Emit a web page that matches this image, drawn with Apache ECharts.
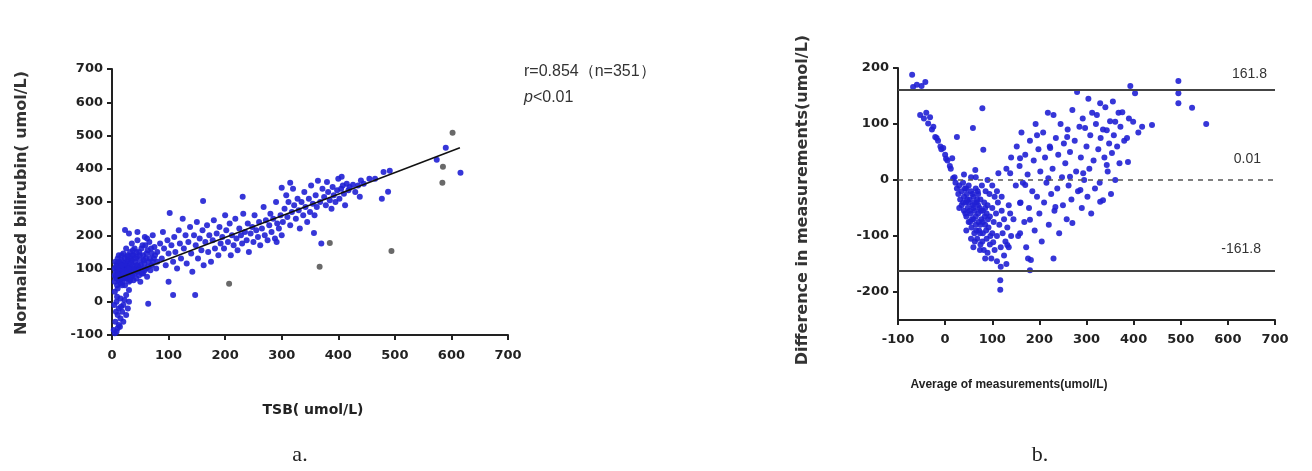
<!DOCTYPE html>
<html>
<head>
<meta charset="utf-8">
<script src="https://cdn.jsdelivr.net/npm/echarts@6/dist/echarts.min.js"></script>
<style>
html,body{margin:0;padding:0;background:#fff;}
#chart{width:1312px;height:471px;}
</style>
</head>
<body>
<div id="chart"></div>
<script>
// ---- Panel a: TSB vs normalized bilirubin ----
const panelAPoints = [
  [5,-95],[8,-90],[3,-85],[10,-80],[14,-75],[12,-70],[6,-60],[20,-60],[15,-50],[10,-40],[25,-40],[18,-30],[12,-20],[28,-20],[20,-10],[8,0],[30,0],[15,10],[22,5],[25,20],[5,30],[10,40],[18,50],[64,-6],[7,-30],[4,-10],[16,-15],[9,15],[30,35],
  [5,60],[5,80],[5,100],[6,120],[7,90],[8,70],[8,110],[9,50],[10,130],[10,85],[11,95],[12,65],[12,140],[13,105],[14,75],[15,115],[15,55],[16,90],[17,125],[18,80],[18,100],[19,60],[20,145],[20,70],[21,110],[22,90],[22,130],[23,50],[24,100],[25,80],[25,160],[26,120],[27,70],[28,105],[28,140],[29,90],[30,60],[30,115],[31,85],[32,150],[33,100],[34,75],[35,125],[35,175],[36,95],[37,110],[38,65],[38,140],[40,85],[40,160],[41,120],[42,100],[43,70],[44,135],[45,90],[45,185],[46,110],[48,150],[48,80],[50,125],[50,60],[52,100],[54,170],[55,140],[55,85],[57,115],[58,195],[60,130],[60,100],[62,75],[63,155],[65,120],[66,180],[68,95],[70,145],[70,110],[72,200],[74,130],[75,165],[78,100],[80,150],[80,120],
  [23,216],[30,205],[45,210],[14,90],[26,95],[36,80],[17,140],[33,130],[9,115],
  [6,75],[9,95],[11,80],[13,120],[16,70],[19,95],[21,85],[23,115],[24,70],[27,95],[29,125],[31,100],[32,65],[34,115],[36,140],[39,100],[42,130],[44,110],[47,95],[49,140],[51,110],[53,85],[56,125],[58,95],[61,145],[64,105],[67,130],[69,160],[72,120],[76,140],[7,105],[12,100],[17,110],[22,75],[27,135],[37,155],[43,150],[52,160],[59,170],[62,190],
  [85,175],[88,130],[90,210],[92,160],[95,110],[98,185],[100,145],[100,60],[102,267],[105,170],[108,20],[108,120],[110,195],[112,150],[115,100],[118,215],[120,175],[122,130],[125,250],[127,160],[130,200],[132,115],[135,180],[138,225],[140,145],[142,90],[145,200],[147,20],[148,170],[150,240],[152,130],[155,190],[158,155],[160,215],[161,303],[162,110],[165,180],[168,230],[170,150],[172,200],[175,120],[178,185],[180,245],[182,160],[185,205],[188,140],[190,225],[192,175],[195,195],[198,160],[200,260],[202,215],[205,180],[208,235],[210,140],[212,200],[215,170],[218,250],[220,190],[222,155],[225,220],[228,200],[230,175],[231,316],[232,265],[235,210],[238,185],[240,235],[242,150],[245,205],[248,225],[250,180],[252,260],[255,215],[258,195],[260,240],[262,170],[265,220],[268,285],[270,200],[272,245],[275,185],[278,230],[280,265],[282,210],[285,250],[288,190],[290,300],[291,180],[292,235],[295,220],[298,260],[300,343],[300,200],
  [302,240],[305,280],[308,320],[310,255],[312,300],[315,358],[315,230],[318,270],[320,340],[322,290],[325,250],[328,310],[330,275],[332,220],[335,300],[338,260],[340,330],[342,285],[345,240],[348,310],[350,270],[352,350],[355,295],[357,207],[358,260],[360,320],[362,285],[364,364],[368,300],[370,175],[372,340],[375,315],[378,290],[380,360],[382,330],[385,305],[388,280],[390,345],[392,320],[395,300],[398,335],[400,370],[402,310],[405,340],[406,376],[408,350],[410,325],[412,290],[415,355],[418,335],[420,345],[426,352],[430,330],[435,350],[438,316],[440,365],[445,355],[455,370],[465,370],[477,310],[480,390],[488,331],[491,394],[574,427],[590,463],[616,388]
];
const panelAGrayPoints = [[207,54],[367,105],[385,177],[494,153],[584,358],[585,406],[602,508]];
const fitLineX = [10, 615];
const fitLineY = [70, 463];

// ---- Panel b: Bland-Altman (average vs difference) ----
const panelBPoints = [
  [-70,188],[-68,166],[-60,170],[-42,175],[-50,168],
  [-53,116],[-45,110],[-40,120],[-36,101],[-32,112],[-28,90],[-25,95],[-21,77],[-18,75],[-15,70],[-10,60],[-8,55],[-4,57],[0,45],[2,38],[5,35],[10,25],[12,20],[15,39],[17,3],[20,5],[25,77],[59,93],[79,128],[81,54],[64,18],[113,12],
  [22,-5],[25,-15],[28,-25],[30,-10],[32,-35],[35,-20],[35,-45],[38,-5],[40,-30],[40,-55],[42,-15],[44,-40],[45,-65],[46,-25],[48,-50],[50,-10],[50,-75],[52,-35],[54,-60],[55,-20],[56,-85],[58,-45],[60,-70],[60,-30],[62,-95],[63,-55],[65,-15],[65,-80],[67,-40],[68,-105],[70,-60],[70,-25],[72,-90],[73,-50],[74,-125],[75,-115],[75,-35],[77,-70],[78,-10],[80,-95],[80,-55],[82,-125],[83,-40],[85,-80],[86,-20],[88,-105],[88,-60],[90,-130],[90,-45],[92,-85],[94,-25],[95,-115],[95,-65],[98,-140],[100,-50],[100,-95],[102,-111],[103,-75],[105,-125],[105,-30],[108,-60],[110,-145],[110,-100],[112,-40],[115,-80],[117,-179],[117,-196],[118,-155],[118,-120],[120,-55],[122,-95],[125,-135],[125,-70],[128,-110],[130,-150],[132,-85],[132,-116],[135,-120],[138,-60],[140,-100],[30,-50],[45,-90],[55,-105],[60,-120],[85,-140],[50,-40],[60,-50],[70,-45],[80,-75],[65,-65],[75,-80],[55,5],[40,10],[65,5],[90,0],[100,-10],[110,-20],[120,-30],[45,-15],[58,-25],[68,-35],[85,-50],
  [38,-40],[43,-60],[47,-35],[52,-55],[57,-70],[62,-40],[66,-90],[71,-75],[76,-55],[79,-110],[84,-65],[87,-90],[91,-70],[96,-100],[53,-75],[63,-110],[69,-20],[74,-95],
  [130,20],[135,-45],[138,12],[140,40],[145,-70],[150,-10],[152,60],[155,-100],[158,25],[159,39],[159,-41],[159,-95],[160,-40],[162,85],[165,-5],[168,-75],[170,45],[170,-9],[172,-120],[175,10],[176,-140],[178,-50],[180,70],[180,-71],[180,-161],[182,-143],[185,-20],[188,35],[190,-90],[192,100],[195,80],[195,-30],[198,55],[200,-60],[202,15],[205,-110],[208,85],[210,-40],[212,40],[215,-5],[218,120],[219,3],[220,-80],[222,60],[223,57],[225,-25],[228,20],[230,116],[230,-140],[232,-55],[234,-48],[235,75],[238,-15],[240,45],[242,-95],[245,100],[248,5],[250,-45],[252,65],[255,30],[258,-70],[259,77],[260,90],[262,-10],[265,50],[265,6],[268,-35],[270,125],[270,-77],[275,70],[278,15],[280,157],[282,-20],[285,95],[287,-18],[288,40],[290,-50],[292,110],[293,12],[295,0],[297,93],[300,60],[302,-30],[304,145],[306,20],[308,80],[310,-60],[312,120],[315,35],[318,-15],[320,100],[322,116],[325,55],[328,-5],[329,137],[329,-39],[330,75],[335,90],[335,-36],[338,40],[340,130],[343,89],[343,27],[345,15],[348,65],[350,105],[352,-25],[354,48],[356,140],[358,80],[361,104],[361,0],[365,60],[368,120],[370,30],[372,95],[376,121],[380,70],[386,75],[388,32],[390,110],[393,168],[399,104],[403,155],[410,85],[418,95],[439,98],[495,177],[495,155],[495,137],[524,129],[554,100]
];
const limitValues = [161.8, 0.01, -161.8];
const limitLabels = ['161.8', '0.01', '-161.8'];

const xTicksA = [0, 700, 100];
const yTicksA = [-100, 700, 100];
const xTicksB = [-100, 700, 100];
const yRangeB = [-250, 200];
const yLabelsB = [-200, -100, 0, 100, 200];

const blue = '#2020d4';
const tickFont = '"DejaVu Sans", "Liberation Sans", Arial, sans-serif';
const axisCommon = {
  axisLine: { show: true, onZero: false, lineStyle: { color: '#222', width: 2 } },
  axisTick: { show: true, inside: false, length: 5, lineStyle: { color: '#222', width: 2 } },
  splitLine: { show: false },
  axisLabel: { color: '#222', fontFamily: tickFont, fontWeight: 'bold', fontSize: 13 }
};

const chart = echarts.init(document.getElementById('chart'), null, { renderer: 'canvas' });
chart.setOption({
  backgroundColor: '#ffffff',
  animation: false,
  grid: [
    { left: 112, top: 69, width: 396, height: 266 },
    { left: 898, top: 68, width: 377, height: 252 }
  ],
  xAxis: [
    Object.assign({}, axisCommon, { gridIndex: 0, type: 'value', min: xTicksA[0], max: xTicksA[1], interval: xTicksA[2],
      axisLabel: Object.assign({}, axisCommon.axisLabel, { margin: 14 }) }),
    Object.assign({}, axisCommon, { gridIndex: 1, type: 'value', min: xTicksB[0], max: xTicksB[1], interval: xTicksB[2],
      axisLabel: Object.assign({}, axisCommon.axisLabel, { margin: 13 }) })
  ],
  yAxis: [
    Object.assign({}, axisCommon, { gridIndex: 0, type: 'value', min: yTicksA[0], max: yTicksA[1], interval: yTicksA[2],
      axisLabel: Object.assign({}, axisCommon.axisLabel, { margin: 9 }) }),
    Object.assign({}, axisCommon, { gridIndex: 1, type: 'value', min: yRangeB[0], max: yRangeB[1],
      axisTick: Object.assign({}, axisCommon.axisTick, { customValues: yLabelsB }),
      axisLabel: Object.assign({}, axisCommon.axisLabel, { margin: 9, customValues: yLabelsB }) })
  ],
  series: [
    { type: 'scatter', xAxisIndex: 0, yAxisIndex: 0, data: panelAPoints, symbolSize: 6,
      itemStyle: { color: blue, opacity: 0.9 }, z: 3 },
    { type: 'scatter', xAxisIndex: 0, yAxisIndex: 0, data: panelAGrayPoints, symbolSize: 6,
      itemStyle: { color: '#444' }, z: 3 },
    { type: 'line', xAxisIndex: 0, yAxisIndex: 0, data: fitLineX.map((x, i) => [x, fitLineY[i]]),
      symbol: 'none', lineStyle: { color: '#111', width: 1.5 }, z: 4 },
    { type: 'scatter', xAxisIndex: 1, yAxisIndex: 1, data: panelBPoints, symbolSize: 6,
      itemStyle: { color: blue, opacity: 0.9 }, z: 3,
      markLine: {
        silent: true, symbol: 'none', animation: false,
        data: limitValues.map((v, i) => ({
          yAxis: v,
          lineStyle: i === 1 ? { color: '#555', width: 1.5, type: [5, 5] } : { color: '#444', width: 2, type: 'solid' },
          label: { show: true, position: 'insideEndTop', distance: i === 0 ? 8 : 14, formatter: limitLabels[i],
            color: '#333', fontSize: 14, fontFamily: 'Liberation Sans, Arial, sans-serif' }
        }))
      }
    }
  ],
  graphic: [
    { type: 'text', left: 524, top: 64, style: { text: 'r=0.854（n=351）', fill: '#333', font: '16px "Liberation Sans", Arial, sans-serif' } },
    { type: 'text', left: 524, top: 90, style: {
        text: '{i|p}<0.01', fill: '#333', font: '16px "Liberation Sans", Arial, sans-serif',
        rich: { i: { fontStyle: 'italic', fontSize: 16, fill: '#333', fontFamily: 'Liberation Sans, Arial, sans-serif' } } } },
    { type: 'text', x: 22, y: 203, rotation: Math.PI / 2, style: {
        text: 'Normalized bilirubin( umol/L)', fill: '#333', align: 'center', verticalAlign: 'middle',
        font: 'bold 16px "DejaVu Sans", Arial, sans-serif' } },
    { type: 'text', x: 313, y: 410, style: { text: 'TSB( umol/L)', fill: '#222', align: 'center', verticalAlign: 'middle',
        font: 'bold 14px "DejaVu Sans", Arial, sans-serif' } },
    { type: 'text', x: 300, y: 455, style: { text: 'a.', fill: '#222', align: 'center', verticalAlign: 'middle',
        font: '22px "Liberation Serif", "Times New Roman", serif' } },
    { type: 'text', x: 803, y: 200, rotation: Math.PI / 2, style: {
        text: 'Difference in measurements(umol/L)', fill: '#333', align: 'center', verticalAlign: 'middle',
        font: 'bold 16px "DejaVu Sans", Arial, sans-serif' } },
    { type: 'text', x: 1009, y: 385, style: { text: 'Average of measurements(umol/L)', fill: '#222', align: 'center', verticalAlign: 'middle',
        font: 'bold 12px "Liberation Sans", Arial, sans-serif' } },
    { type: 'text', x: 1040, y: 455, style: { text: 'b.', fill: '#222', align: 'center', verticalAlign: 'middle',
        font: '22px "Liberation Serif", "Times New Roman", serif' } }
  ]
});
</script>
</body>
</html>
